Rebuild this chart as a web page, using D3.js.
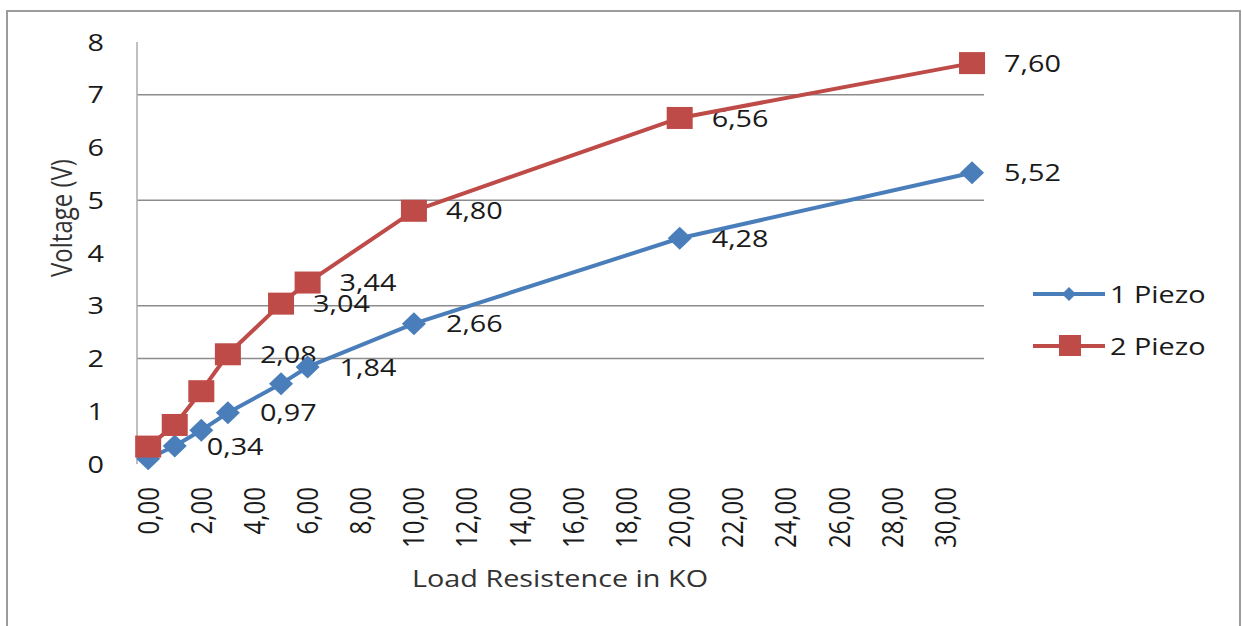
<!DOCTYPE html>
<html>
<head>
<meta charset="utf-8">
<script src="https://cdn.jsdelivr.net/npm/d3@7"></script>
<style>
  html, body { margin: 0; padding: 0; background: #fff; }
  svg { display: block; }
  text { font-family: "Open Sans", "DejaVu Sans", sans-serif; }
</style>
</head>
<body>
<svg id="chart" width="1242" height="626"></svg>
<script>
// Load resistance (kΩ) and measured output voltage (V)
const resistance = [0, 1, 2, 3, 5, 6, 10, 20, 31];
const onePiezo   = [0.10, 0.34, 0.64, 0.97, 1.52, 1.84, 2.66, 4.28, 5.52];
const twoPiezo   = [0.33, 0.74, 1.38, 2.08, 3.04, 3.44, 4.80, 6.56, 7.60];
// Which points carry a value label
const onePiezoLabelled = [false, true, false, true, false, true, true, true, true];
const twoPiezoLabelled = [false, false, false, true, true, true, true, true, true];

const seriesNames = ["1 Piezo", "2 Piezo"];
const xTickValues = [0, 2, 4, 6, 8, 10, 12, 14, 16, 18, 20, 22, 24, 26, 28, 30];
const yTickValues = [0, 1, 2, 3, 4, 5, 6, 7, 8];
const yGridValues = [2, 3, 5, 7];
const xTitle = "Load Resistence in KO";
const yTitle = "Voltage (V)";

const BLUE = "#4A7EBB";
const RED = "#BE4B48";
const SX = 1.2;          // horizontal text stretch
const FONT = 24;

const svg = d3.select("#chart");
const locale = d3.formatLocale({ decimal: ",", thousands: ".", grouping: [3], currency: ["", "€"] });
const fmt2 = locale.format(".2f");

const x = d3.scaleLinear().domain([-0.42, 31.45]).range([137, 984]);
const y = d3.scaleLinear().domain([0, 8]).range([464, 42]);

// chart frame
svg.append("rect")
  .attr("x", 7).attr("y", 11).attr("width", 1233).attr("height", 640)
  .attr("fill", "#fff").attr("stroke", "#9c9c9c").attr("stroke-width", 2);

function label(g, px, py, str, opts = {}) {
  const t = g.append("text")
    .attr("transform", `translate(${px},${py}) scale(${SX},1)` + (opts.rotate ? " rotate(-90)" : ""))
    .attr("dy", "0.36em")
    .attr("font-size", opts.size || FONT)
    .attr("fill", opts.fill || "#1a1a1a")
    .attr("text-anchor", opts.anchor || "start")
    .text(str);
  return t;
}

// gridlines
svg.append("g").selectAll("line").data(yGridValues).join("line")
  .attr("x1", x.range()[0]).attr("x2", x.range()[1])
  .attr("y1", d => y(d)).attr("y2", d => y(d))
  .attr("stroke", "#8c8c8c").attr("stroke-width", 1.6);

// y axis line
svg.append("line")
  .attr("x1", x.range()[0]).attr("x2", x.range()[0])
  .attr("y1", y(8)).attr("y2", y(0))
  .attr("stroke", "#b0b0b0").attr("stroke-width", 1.6);

// y tick labels
const yAxisG = svg.append("g");
yTickValues.forEach(v => label(yAxisG, 104, y(v), String(v), { anchor: "end" }));

// x tick labels (rotated)
const xAxisG = svg.append("g");
xTickValues.forEach(v => label(xAxisG, x(v), 487, fmt2(v), { anchor: "end", rotate: true }));

// axis titles
label(svg, 560, 578, xTitle, { anchor: "middle", fill: "#333" });
label(svg, 62, 218, yTitle, { anchor: "middle", fill: "#333", rotate: true });

// value labels
const valueG = svg.append("g");
function valueLabels(values, flags) {
  values.forEach((v, i) => {
    if (flags[i]) label(valueG, x(resistance[i]) + 32, y(v), fmt2(v));
  });
}
valueLabels(onePiezo, onePiezoLabelled);
valueLabels(twoPiezo, twoPiezoLabelled);

const line = d3.line().x(d => x(d[0])).y(d => y(d[1]));
const diamond = (cx, cy, w, h) => `M${cx},${cy - h}L${cx + w},${cy}L${cx},${cy + h}L${cx - w},${cy}Z`;

function drawSeries(values, color, marker) {
  const pts = resistance.map((r, i) => [r, values[i]]);
  const g = svg.append("g");
  g.append("path").attr("d", line(pts)).attr("fill", "none")
    .attr("stroke", color).attr("stroke-width", 4).attr("stroke-linejoin", "round");
  if (marker === "diamond") {
    g.selectAll("path.m").data(pts).join("path").attr("class", "m")
      .attr("d", d => diamond(x(d[0]), y(d[1]), 12, 11.5)).attr("fill", color);
  } else {
    g.selectAll("rect.m").data(pts).join("rect").attr("class", "m")
      .attr("x", d => x(d[0]) - 13).attr("y", d => y(d[1]) - 11)
      .attr("width", 26).attr("height", 22).attr("fill", color);
  }
}
drawSeries(onePiezo, BLUE, "diamond");
drawSeries(twoPiezo, RED, "square");

// legend
const leg = svg.append("g");
[[BLUE, 294], [RED, 346]].forEach(([c, ly], i) => {
  leg.append("line").attr("x1", 1033).attr("x2", 1105).attr("y1", ly).attr("y2", ly)
    .attr("stroke", c).attr("stroke-width", 4);
  if (i === 0) {
    leg.append("path").attr("d", diamond(1069, ly, 7, 7)).attr("fill", c);
  } else {
    leg.append("rect").attr("x", 1059).attr("y", ly - 11).attr("width", 22).attr("height", 21).attr("fill", c);
  }
  label(leg, 1110, ly, seriesNames[i]);
});
</script>
</body>
</html>
